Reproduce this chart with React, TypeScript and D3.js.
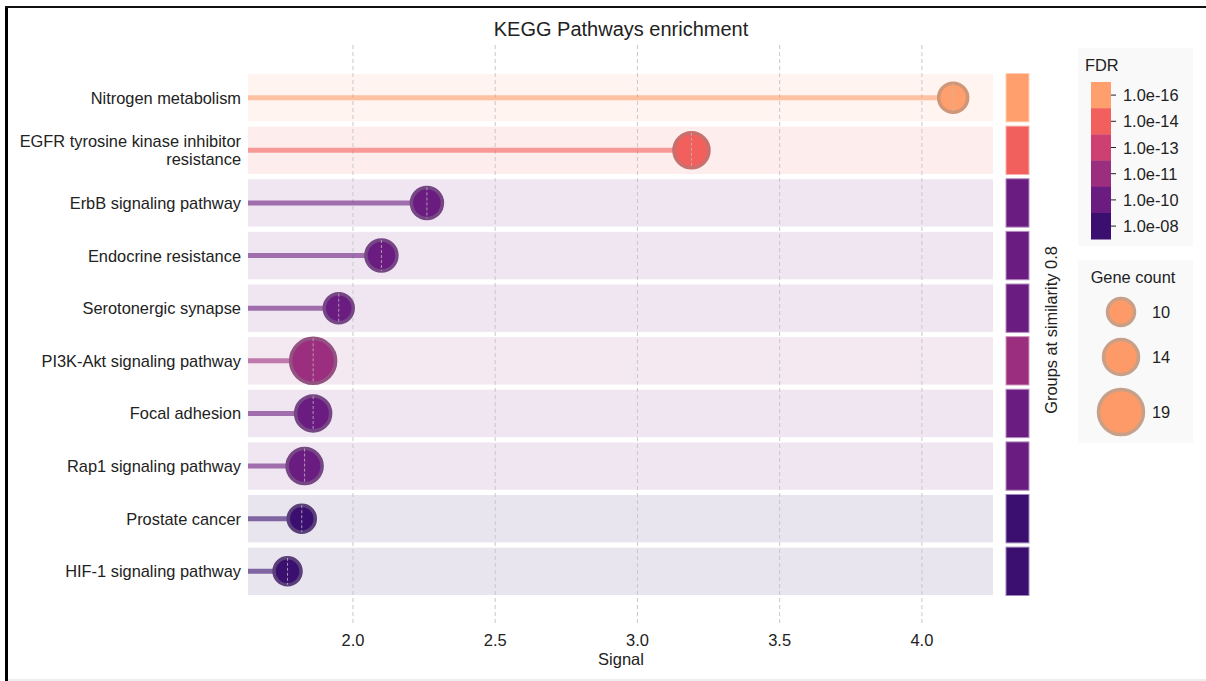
import React from "react";
import * as d3 from "d3";

// pathways, top to bottom
const pathways = [
  "Nitrogen metabolism",
  "EGFR tyrosine kinase inhibitor resistance",
  "ErbB signaling pathway",
  "Endocrine resistance",
  "Serotonergic synapse",
  "PI3K-Akt signaling pathway",
  "Focal adhesion",
  "Rap1 signaling pathway",
  "Prostate cancer",
  "HIF-1 signaling pathway",
];
const signal = [4.11, 3.19, 2.26, 2.1, 1.95, 1.86, 1.86, 1.83, 1.82, 1.77];
const geneCount = [11, 14, 12, 12, 11, 19, 14, 14, 10, 10];
// index into fdrLevels
const fdrIndex = [0, 1, 4, 4, 4, 3, 4, 4, 5, 5];

const fdrLevels = ["1.0e-16", "1.0e-14", "1.0e-13", "1.0e-11", "1.0e-10", "1.0e-08"];
const fdrColors = ["#fe9f6d", "#f1605d", "#cd4071", "#9c2e7f", "#6a1c81", "#3b0f70"];

const xTicks = [2.0, 2.5, 3.0, 3.5, 4.0];
const legendCounts = [10, 14, 19];

const FONT = "Liberation Sans, Arial, sans-serif";
const FS = 16.4;

export default function App() {
  const width = 1206;
  const height = 681;
  const left = 248;
  const right = 993;

  const x = d3.scaleLinear().domain([1.631, 4.25]).range([left, right]);
  const y = d3.scaleBand<string>().domain(pathways).range([74, 595]).paddingInner(0.1);
  const r = d3.scaleLinear().domain([10, 19]).range([13.5, 22.5]);
  const bw = y.bandwidth();

  const ringColor = (c: string) => d3.interpolateRgb(c, "#888888")(0.4);
  const tint = (c: string, a: number) => d3.interpolateRgb("#ffffff", c)(a);

  const cbTop = 82;
  const cbStep = 26.2;

  return (
    <svg width={width} height={height} style={{ position: "absolute", left: 0, top: 0 }} fontFamily={FONT}>
      <rect width={width} height={height} fill="#fff" />
      {/* frame */}
      <line x1={6.5} x2={6.5} y1={6} y2={681} stroke="#000" strokeWidth={3} />
      <line x1={5} x2={1206} y1={7} y2={7} stroke="#111" strokeWidth={2} />
      <line x1={8} x2={1206} y1={680} y2={680} stroke="#ddd" strokeWidth={1} />

      <text x={621} y={36} textAnchor="middle" fontSize={20} fill="#222">
        KEGG Pathways enrichment
      </text>

      {/* row bands */}
      {pathways.map((p, i) => (
        <rect key={p} x={left} y={y(p)} width={right - left} height={bw}
          fill={tint(fdrColors[fdrIndex[i]], 0.11)} />
      ))}

      {/* grid */}
      {xTicks.map((t) => (
        <line key={t} x1={x(t)} x2={x(t)} y1={45} y2={626} stroke="#c8c8c8"
          strokeWidth={1} strokeDasharray="4,3" />
      ))}

      {/* stems and dots */}
      {pathways.map((p, i) => {
        const c = fdrColors[fdrIndex[i]];
        const cy = (y(p) as number) + bw / 2;
        const cx = x(signal[i]);
        const rr = r(geneCount[i]);
        return (
          <g key={p}>
            <line x1={left} x2={cx} y1={cy} y2={cy} stroke={c} strokeOpacity={0.6} strokeWidth={5} />
            <circle cx={cx} cy={cy} r={rr} fill={c} stroke={ringColor(c)} strokeWidth={3.5} />
            <line x1={cx} x2={cx} y1={cy - rr} y2={cy + rr} stroke="#bbb" strokeOpacity={0.8}
              strokeWidth={1} strokeDasharray="3,2" />
          </g>
        );
      })}

      {/* y labels */}
      {pathways.map((p) => {
        const cy = (y(p) as number) + bw / 2;
        if (p === "EGFR tyrosine kinase inhibitor resistance") {
          return (
            <text key={p} x={241} textAnchor="end" fontSize={FS} fill="#222">
              <tspan x={241} y={cy - 9 + 6}>EGFR tyrosine kinase inhibitor</tspan>
              <tspan x={241} y={cy + 9 + 6}>resistance</tspan>
            </text>
          );
        }
        return (
          <text key={p} x={241} y={cy + 6} textAnchor="end" fontSize={FS} fill="#222">{p}</text>
        );
      })}

      {/* x axis labels */}
      {xTicks.map((t) => (
        <text key={t} x={x(t)} y={646} textAnchor="middle" fontSize={16.5} fill="#222">
          {d3.format(".1f")(t)}
        </text>
      ))}
      <text x={621} y={665} textAnchor="middle" fontSize={16.5} fill="#222">Signal</text>

      {/* group strip */}
      {pathways.map((p, i) => {
        const c = fdrColors[fdrIndex[i]];
        return (
          <rect key={p} x={1006} y={(y(p) as number) - 0.5} width={23} height={bw + 1}
            fill={c} stroke={tint(c, 0.5)} strokeWidth={1} />
        );
      })}
      <text transform="translate(1057,330) rotate(-90)" textAnchor="middle" fontSize={FS} fill="#222">
        Groups at similarity 0.8
      </text>

      {/* FDR legend */}
      <rect x={1078} y={48} width={115} height={198} fill="#f9f9f9" />
      <text x={1085} y={71} fontSize={FS} fill="#222">FDR</text>
      {fdrLevels.map((l, i) => {
        const ty = cbTop + i * cbStep;
        return (
          <g key={l}>
            <rect x={1091} y={ty} width={20} height={cbStep + 0.3} fill={fdrColors[i]} />
            <line x1={1111} x2={1116} y1={ty + cbStep / 2} y2={ty + cbStep / 2} stroke="#222" strokeWidth={1} />
            <text x={1123} y={ty + cbStep / 2 + 6} fontSize={FS} fill="#222">{l}</text>
          </g>
        );
      })}

      {/* gene count legend */}
      <rect x={1078} y={260} width={115} height={183} fill="#f9f9f9" />
      <text x={1133} y={283} textAnchor="middle" fontSize={FS} fill="#222">Gene count</text>
      {legendCounts.map((n, i) => {
        const cy = [312, 357, 412][i];
        return (
          <g key={n}>
            <circle cx={1121} cy={cy} r={r(n)} fill="#fd9a68" stroke="#c8a088" strokeWidth={3.5} />
            <text x={1152} y={cy + 6} fontSize={FS} fill="#222">{n}</text>
          </g>
        );
      })}
    </svg>
  );
}
